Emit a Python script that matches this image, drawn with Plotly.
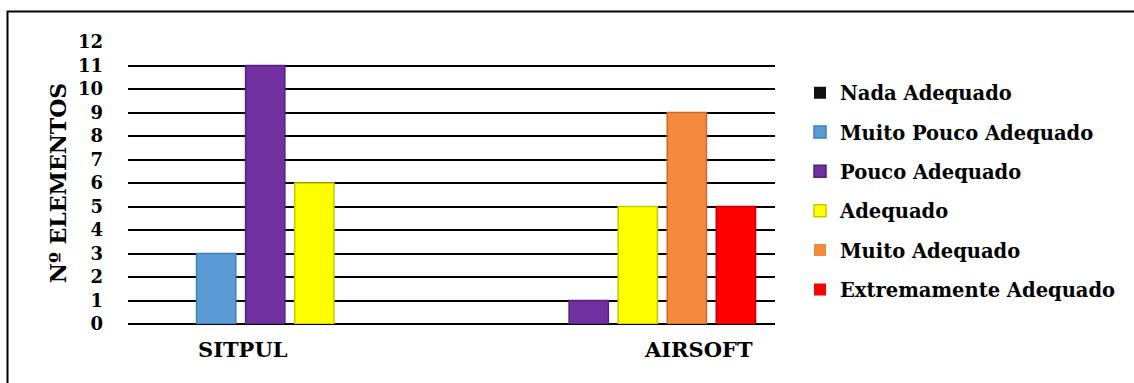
import plotly.graph_objects as go

categories = ["SITPUL", "AIRSOFT"]
series_names = [
    "Nada Adequado",
    "Muito Pouco Adequado",
    "Pouco Adequado",
    "Adequado",
    "Muito Adequado",
    "Extremamente Adequado",
]
nada = [0, 0]
muito_pouco = [3, 0]
pouco = [11, 1]
adequado = [6, 5]
muito_adequado = [0, 9]
extremamente = [0, 5]
y_ticks = list(range(0, 13))

colors = ["#111111", "#5B9BD5", "#7030A0", "#FFFF00", "#F58A3C", "#FF0000"]
edges = ["#000000", "#3F7FB5", "#55207F", "#C8C800", "#C8692A", "#C00000"]
values = [nada, muito_pouco, pouco, adequado, muito_adequado, extremamente]

FONT = "DejaVu Serif"
W, H = 1134, 383
L, R, T, B = 128, 359, 42, 59
pw, ph = W - L - R, H - T - B


def bold(size):
    return dict(family=FONT, size=size, color="black", weight="bold")


fig = go.Figure()
for name, vals, c, e in zip(series_names, values, colors, edges):
    fig.add_trace(go.Bar(
        name=name, x=categories, y=vals,
        marker=dict(color=c,
                    line=dict(color=e, width=[1.5 if v else 0 for v in vals])),
        legendgroup=name,
    ))

# category labels under each group
label_shift = {"SITPUL": -47, "AIRSOFT": 85}
annotations = []
for cat in categories:
    annotations.append(dict(
        x=cat, y=0, xref="x", yref="y", yanchor="top", yshift=-11,
        xshift=label_shift[cat], text=cat, showarrow=False,
        font=bold(21),
    ))

# outer frame
shapes = [dict(
    type="rect", xref="paper", yref="paper",
    x0=(7.5 - L) / pw, x1=(1150 - L) / pw,
    y0=(T + ph - 400) / ph, y1=(T + ph - 11.5) / ph,
    line=dict(color="black", width=2), fillcolor="rgba(0,0,0,0)",
)]

fig.update_layout(
    width=W, height=H,
    margin=dict(l=L, r=R, t=T, b=B),
    paper_bgcolor="white", plot_bgcolor="white",
    barmode="group", bargap=0.09, bargroupgap=0.2,
    font=bold(18),
    xaxis=dict(showticklabels=False, showgrid=False, zeroline=False,
               showline=False, ticks=""),
    yaxis=dict(range=[0, 12], tickvals=y_ticks, showgrid=True,
               gridcolor="black", gridwidth=1.8, zeroline=True,
               zerolinecolor="black", zerolinewidth=1.8, showline=False,
               ticks="", ticklen=0, ticklabelstandoff=24,
               tickfont=bold(18),
               title=dict(text="Nº ELEMENTOS", standoff=5, font=bold(22))),
    legend=dict(x=(800 - L) / pw, xanchor="left", y=0.47, yanchor="middle",
                tracegroupgap=11, itemwidth=30,
                font=bold(19.5)),
    annotations=annotations,
    shapes=shapes,
)

fig.write_html("out.html")
